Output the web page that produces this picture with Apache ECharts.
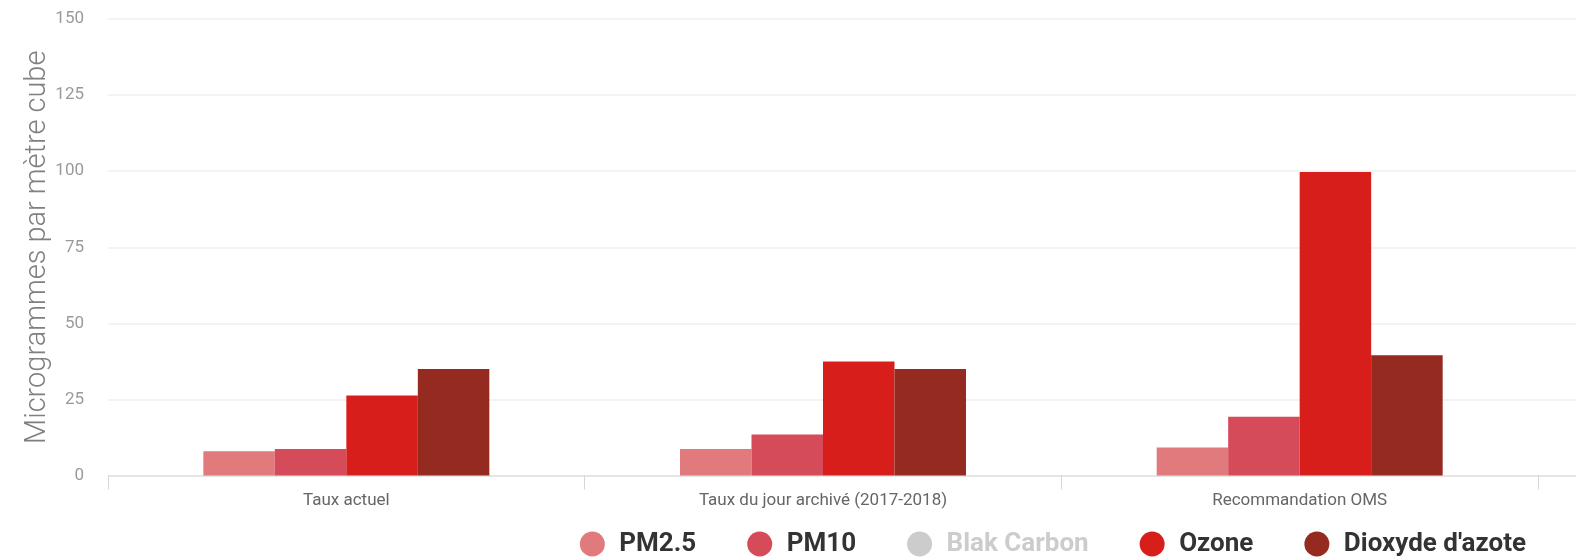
<!DOCTYPE html>
<html>
<head>
<meta charset="utf-8">
<script src="https://cdn.jsdelivr.net/npm/echarts@6/dist/echarts.min.js"></script>
<style>
html,body{margin:0;padding:0;background:#fff;}
#chart{width:1576px;height:558px;}
</style>
</head>
<body>
<div id="chart"></div>
<script>
const categories = ['Taux actuel', 'Taux du jour archivé (2017-2018)', 'Recommandation OMS'];
const seriesNames = ['PM2.5', 'PM10', 'Blak Carbon', 'Ozone', "Dioxyde d'azote"];
const pm25 = [8, 8.7, 9.2];
const pm10 = [8.7, 13.5, 19.3];
const blackCarbon = [];
const ozone = [26.3, 37.5, 99.7];
const no2 = [35, 35, 39.5];
const colors = ['#e07a7d', '#d64b5a', '#c8c8c8', '#d81e1a', '#952a20'];
const yTicks = { min: 0, max: 150, interval: 25 };
const yName = 'Microgrammes par mètre cube';

const seriesData = [pm25, pm10, blackCarbon, ozone, no2];

const chart = echarts.init(document.getElementById('chart'));
const option = {
  animation: false,
  textStyle: { fontFamily: 'Roboto' },
  color: colors,
  grid: [
    { left: 108, right: 0, top: 19, bottom: 82.5 },
    { left: 108, right: 38, top: 19, bottom: 82.5 }
  ],
  xAxis: [
    { type: 'value', gridIndex: 0, min: 0, max: 1, show: false },
    {
      type: 'category', gridIndex: 1, data: categories,
      axisLine: { show: false },
      axisTick: { show: true, length: 14, lineStyle: { color: '#d6d6d6', width: 1 } },
      axisLabel: { fontSize: 17, color: '#666', margin: 17 }
    }
  ],
  yAxis: [
    {
      type: 'value', gridIndex: 0, min: yTicks.min, max: yTicks.max, interval: yTicks.interval,
      name: yName, nameLocation: 'middle', nameGap: 56, nameMoveOverlap: false,
      nameTextStyle: { fontSize: 29, color: '#808080', fontWeight: 300 },
      axisLine: { show: false }, axisTick: { show: false },
      axisLabel: { fontSize: 17, color: '#9a9a9a', margin: 24 },
      splitLine: { lineStyle: { color: ['#dcdcdc', '#efefef', '#efefef', '#efefef', '#efefef', '#efefef', '#efefef'], width: 1.5 } }
    },
    {
      type: 'value', gridIndex: 1, min: yTicks.min, max: yTicks.max, interval: yTicks.interval,
      show: false, splitLine: { show: false }
    }
  ],
  legend: {
    data: seriesNames,
    selected: { 'Blak Carbon': false },
    icon: 'circle',
    itemWidth: 44, itemHeight: 25, itemGap: 51,
    right: 45, bottom: -4,
    inactiveColor: '#cccccc',
    textStyle: { fontSize: 26, fontWeight: 'bold', color: '#333', fontFamily: 'Roboto' }
  },
  series: seriesNames.map((name, i) => ({
    name: name,
    type: 'bar',
    xAxisIndex: 1,
    yAxisIndex: 1,
    data: seriesData[i],
    barGap: '0%',
    barCategoryGap: '40%',
    itemStyle: { color: colors[i] }
  }))
};
chart.setOption(option);
</script>
</body>
</html>
